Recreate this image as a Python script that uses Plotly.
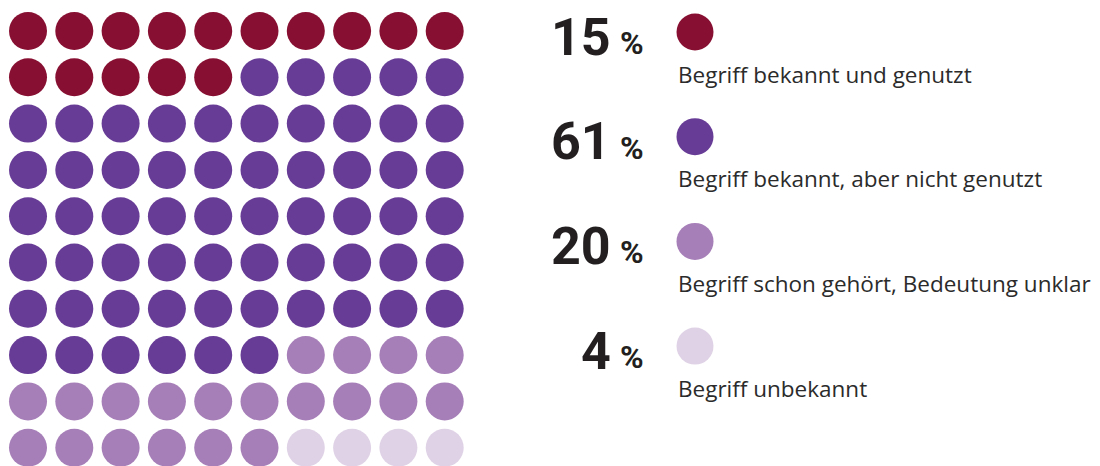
import plotly.graph_objects as go

categories = [
    "Begriff bekannt und genutzt",
    "Begriff bekannt, aber nicht genutzt",
    "Begriff schon gehört, Bedeutung unklar",
    "Begriff unbekannt",
]
percentages = [15, 61, 20, 4]
colors = ["#870F31", "#673C96", "#A67EB8", "#DFD2E6"]

GRID_COLS = 10
GRID_ROWS = 10

# waffle layout (page-pixel coordinate system; page body has 8px offset)
x0, y0, step = 28, 31, 46.3
dot_size = 38

fig = go.Figure()

# build waffle cells from percentages
cell_cat = []
for ci, p in enumerate(percentages):
    cell_cat += [ci] * p

for ci, cat in enumerate(categories):
    xs, ys = [], []
    for idx, c in enumerate(cell_cat):
        if c == ci:
            r, col = divmod(idx, GRID_COLS)
            xs.append(x0 + col * step)
            ys.append(y0 + r * step)
    fig.add_trace(go.Scatter(
        x=xs, y=ys, mode="markers", name=cat,
        marker=dict(size=dot_size, color=colors[ci], line=dict(width=0)),
        hoverinfo="name", showlegend=False, cliponaxis=False,
    ))

# legend
leg_x = 695
leg_y0, leg_step = 32, 104.7
fig.add_trace(go.Scatter(
    x=[leg_x] * len(categories),
    y=[leg_y0 + i * leg_step for i in range(len(categories))],
    mode="markers",
    marker=dict(size=37, color=colors, line=dict(width=0)),
    hoverinfo="skip", showlegend=False,
))

text_col = "#231F20"
for i, (cat, p) in enumerate(zip(categories, percentages)):
    yc = leg_y0 + i * leg_step
    fig.add_annotation(x=613, y=yc + 5, text=f"<b>{p}</b>", showarrow=False,
                       xanchor="right", yanchor="middle",
                       font=dict(family="Roboto", size=52, color=text_col))
    fig.add_annotation(x=618, y=yc + 11, text="<b>%</b>", showarrow=False,
                       xanchor="left", yanchor="middle",
                       font=dict(family="Roboto", size=32, color=text_col))
    fig.add_annotation(x=676, y=yc + 42, text=cat, showarrow=False,
                       xanchor="left", yanchor="middle",
                       font=dict(family="Open Sans", size=22.5, color="#2b2b2b"))

fig.update_layout(
    width=1100, height=466,
    margin=dict(l=0, r=0, t=0, b=0),
    paper_bgcolor="white", plot_bgcolor="white",
    xaxis=dict(range=[8, 1108], visible=False, fixedrange=True),
    yaxis=dict(range=[474, 8], visible=False, fixedrange=True),
)

fig.write_html("out.html")
